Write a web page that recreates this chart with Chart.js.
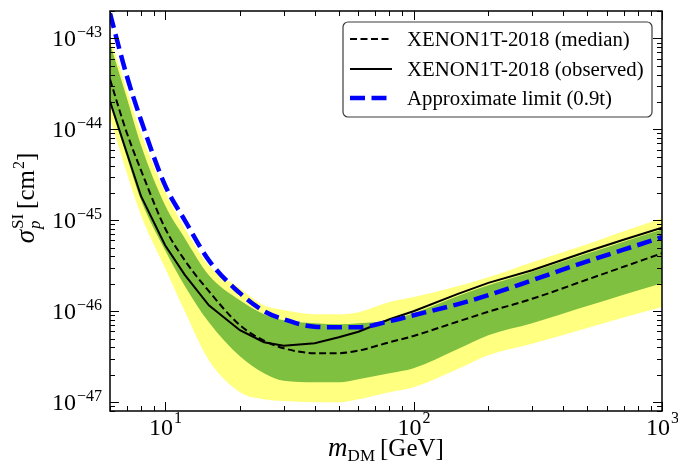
<!DOCTYPE html>
<html>
<head>
<meta charset="utf-8">
<script src="https://cdn.jsdelivr.net/npm/chart.js@4"></script>
<style>
  body { margin: 0; background: #fff; }
  canvas { display: block; }
</style>
</head>
<body>
<canvas id="limitChart" width="678" height="467"></canvas>
<script>
// dark matter mass [GeV]
const masses = [6, 7, 8, 10, 12, 15, 20, 25, 30, 40, 50, 60, 80, 100, 150, 200, 300, 500, 700, 1000];

// sigma_p^SI [cm^2]
const median = [3.54e-44, 9.27e-45, 3.54e-45, 8.17e-46, 3.63e-46, 1.66e-46, 7.02e-47, 4.74e-47, 3.92e-47, 3.46e-47,
  3.46e-47, 3.69e-47, 4.56e-47, 5.35e-47, 7.67e-47, 9.87e-47, 1.37e-46, 2.23e-46, 3.08e-46, 4.34e-46];
const observed = [2.03e-44, 5.59e-45, 1.84e-45, 5.31e-46, 2.51e-46, 1.16e-46, 6.18e-47, 4.56e-47, 4.18e-47, 4.45e-47,
  5.18e-47, 5.95e-47, 8.17e-47, 1.0e-46, 1.54e-46, 2.05e-46, 2.82e-46, 4.53e-46, 6.1e-46, 8.3e-46];
const approx = [1.88e-43, 3.92e-44, 1.26e-44, 2.42e-45, 1.0e-45, 3.63e-46, 1.58e-46, 1.0e-46, 8.17e-47, 6.75e-47,
  6.67e-47, 6.67e-47, 7.77e-47, 9.04e-47, 1.19e-46, 1.50e-46, 2.19e-46, 3.54e-46, 4.75e-46, 6.51e-46];

// 2 sigma (yellow) and 1 sigma (green) bands
const yellowUp = [1.03e-43, 2.75e-44, 9.04e-45, 2.08e-45, 8.17e-46, 3.20e-46, 1.79e-46, 1.16e-46, 1.03e-46, 9.27e-47,
  9.27e-47, 9.75e-47, 1.26e-46, 1.43e-46, 1.88e-46, 2.36e-46, 3.46e-46, 5.45e-46, 7.57e-46, 1.05e-45];
const greenUp = [8.81e-44, 2.25e-44, 6.67e-45, 1.46e-45, 6.34e-46, 2.49e-46, 1.32e-46, 9.27e-47, 7.96e-47, 7.38e-47,
  7.2e-47, 7.38e-47, 7.96e-47, 9.51e-47, 1.46e-46, 1.93e-46, 2.72e-46, 4.3e-46, 5.8e-46, 7.9e-46];
const greenLo = [1.88e-44, 5.05e-45, 1.66e-45, 4.68e-46, 1.90e-46, 7.57e-47, 3.20e-47, 2.08e-47, 1.72e-47, 1.66e-47,
  1.66e-47, 1.79e-47, 2.08e-47, 2.36e-47, 3.82e-47, 5.45e-47, 7.38e-47, 1.14e-46, 1.52e-46, 2.03e-46];
const yellowLo = [1.32e-44, 3.37e-45, 1.13e-45, 2.97e-46, 1.0e-46, 2.89e-47, 1.29e-47, 1.08e-47, 1.03e-47, 1.0e-47,
  1.0e-47, 1.08e-47, 1.29e-47, 1.46e-47, 2.30e-47, 3.28e-47, 4.38e-47, 6.54e-47, 8.51e-47, 1.11e-46];

// axis ticks
const xMajor = [10, 100, 1000];
const xExp = ["1", "2", "3"];
const yMajor = [1e-47, 1e-46, 1e-45, 1e-44, 1e-43];
const yExp = ["\u221247", "\u221246", "\u221245", "\u221244", "\u221243"];

const legendItems = [
  { text: "XENON1T-2018 (median)", color: "#000", width: 2, dash: [7, 3.5] },
  { text: "XENON1T-2018 (observed)", color: "#000", width: 2, dash: [] },
  { text: "Approximate limit (0.9t)", color: "#0000ff", width: 4.5, dash: [15, 6.5] }
];

const SERIF = "'Liberation Serif', 'DejaVu Serif', serif";

function pts(vals) {
  return masses.map((m, i) => ({ x: m, y: vals[i] }));
}

function minorTicks(lo, hi) {
  const out = [];
  for (let e = Math.floor(Math.log10(lo)); e <= Math.ceil(Math.log10(hi)); e++) {
    for (let k = 2; k <= 9; k++) {
      const v = k * Math.pow(10, e);
      if (v >= lo * 0.999 && v <= hi * 1.001) out.push(v);
    }
  }
  return out;
}

const decor = {
  id: "decor",
  afterDraw(chart) {
    const { ctx, chartArea: a, scales } = chart;
    const x = scales.x, y = scales.y;
    ctx.save();

    // inward ticks on all four sides
    ctx.strokeStyle = "#000";
    ctx.lineWidth = 1;
    const xTick = (v, len) => {
      const px = Math.round(x.getPixelForValue(v)) + 0.5;
      ctx.beginPath();
      ctx.moveTo(px, a.bottom); ctx.lineTo(px, a.bottom - len);
      ctx.moveTo(px, a.top); ctx.lineTo(px, a.top + len);
      ctx.stroke();
    };
    const yTick = (v, len) => {
      const py = Math.round(y.getPixelForValue(v)) + 0.5;
      ctx.beginPath();
      ctx.moveTo(a.left, py); ctx.lineTo(a.left + len, py);
      ctx.moveTo(a.right, py); ctx.lineTo(a.right - len, py);
      ctx.stroke();
    };
    minorTicks(x.min, x.max).forEach(v => xTick(v, 5));
    xMajor.forEach(v => xTick(v, 9));
    minorTicks(y.min, y.max).forEach(v => yTick(v, 5));
    yMajor.forEach(v => yTick(v, 9));

    // frame
    ctx.lineWidth = 1.5;
    ctx.strokeRect(a.left, a.top, a.right - a.left, a.bottom - a.top);

    // tick labels
    ctx.fillStyle = "#000";
    ctx.textAlign = "left";
    ctx.textBaseline = "alphabetic";
    xMajor.forEach((v, i) => {
      const px = x.getPixelForValue(v);
      ctx.font = "24px " + SERIF;
      const w1 = ctx.measureText("10").width;
      ctx.font = "16px " + SERIF;
      const w2 = ctx.measureText(xExp[i]).width;
      const left = px - (w1 + w2) / 2;
      ctx.font = "24px " + SERIF;
      ctx.fillText("10", left, a.bottom + 24);
      ctx.font = "16px " + SERIF;
      ctx.fillText(xExp[i], left + w1 + 1, a.bottom + 12);
    });
    yMajor.forEach((v, i) => {
      const py = y.getPixelForValue(v);
      ctx.font = "16px " + SERIF;
      const w2 = ctx.measureText(yExp[i]).width;
      ctx.fillText(yExp[i], 102 - w2, py - 1);
      ctx.font = "24px " + SERIF;
      const w1 = ctx.measureText("10").width;
      ctx.fillText("10", 102 - w2 - w1 - 1, py + 8);
    });

    // x title: m_DM [GeV]
    const xParts = [
      { t: "m", f: "italic 27px " + SERIF, dy: 0 },
      { t: "DM", f: "17px " + SERIF, dy: 5 },
      { t: "\u2009[GeV]", f: "25px " + SERIF, dy: 0 }
    ];
    let tw = 0;
    xParts.forEach(p => { ctx.font = p.f; p.w = ctx.measureText(p.t).width; tw += p.w; });
    let cx = (a.left + a.right) / 2 - tw / 2;
    xParts.forEach(p => { ctx.font = p.f; ctx.fillText(p.t, cx, 456 + p.dy); cx += p.w; });

    // y title: sigma_p^SI [cm^2]
    ctx.save();
    ctx.translate(34, 198);
    ctx.rotate(-Math.PI / 2);
    ctx.font = "italic 27px " + SERIF;
    const wSig = ctx.measureText("\u03c3").width;
    ctx.font = "17px " + SERIF;
    const wSI = ctx.measureText("SI").width;
    ctx.font = "25px " + SERIF;
    const wCm = ctx.measureText("\u2009[cm").width;
    const wBr = ctx.measureText("]").width;
    ctx.font = "16px " + SERIF;
    const w2 = ctx.measureText("2").width;
    const total = wSig + wSI + wCm + w2 + wBr + 2;
    let tx = -total / 2;
    ctx.font = "italic 27px " + SERIF;
    ctx.fillText("\u03c3", tx, 0);
    tx += wSig + 1;
    ctx.font = "italic 17px " + SERIF;
    ctx.fillText("p", tx, 6);
    ctx.font = "17px " + SERIF;
    ctx.fillText("SI", tx, -11);
    tx += wSI;
    ctx.font = "25px " + SERIF;
    ctx.fillText("\u2009[cm", tx, 0);
    tx += wCm;
    ctx.font = "16px " + SERIF;
    ctx.fillText("2", tx + 1, -10);
    tx += w2 + 1;
    ctx.font = "25px " + SERIF;
    ctx.fillText("]", tx, 0);
    ctx.restore();

    // legend box
    const bx = 343, by = 22, bw = 309, bh = 95, r = 5;
    ctx.beginPath();
    ctx.moveTo(bx + r, by);
    ctx.arcTo(bx + bw, by, bx + bw, by + bh, r);
    ctx.arcTo(bx + bw, by + bh, bx, by + bh, r);
    ctx.arcTo(bx, by + bh, bx, by, r);
    ctx.arcTo(bx, by, bx + bw, by, r);
    ctx.closePath();
    ctx.fillStyle = "rgba(255,255,255,0.9)";
    ctx.fill();
    ctx.strokeStyle = "#3c3c3c";
    ctx.lineWidth = 1.2;
    ctx.stroke();

    const rows = [39, 69, 98];
    legendItems.forEach((it, i) => {
      ctx.beginPath();
      ctx.setLineDash(it.dash);
      ctx.strokeStyle = it.color;
      ctx.lineWidth = it.width;
      ctx.moveTo(350, rows[i]);
      ctx.lineTo(392, rows[i]);
      ctx.stroke();
      ctx.setLineDash([]);
      ctx.fillStyle = "#000";
      ctx.font = "20.8px " + SERIF;
      ctx.fillText(it.text, 407, rows[i] + 7);
    });

    ctx.restore();
  }
};

const smooth = { cubicInterpolationMode: "monotone" };

new Chart(document.getElementById("limitChart"), {
  type: "line",
  data: {
    datasets: [
      { data: pts(yellowUp), fill: "+1", backgroundColor: "#ffff80", borderWidth: 0, order: 6, ...smooth },
      { data: pts(yellowLo), fill: false, borderWidth: 0, order: 7, ...smooth },
      { data: pts(greenUp), fill: "+1", backgroundColor: "#80c040", borderWidth: 0, order: 4, ...smooth },
      { data: pts(greenLo), fill: false, borderWidth: 0, order: 5, ...smooth },
      { data: pts(median), borderColor: "#000", borderWidth: 2, borderDash: [7, 3.5], fill: false, order: 3, ...smooth },
      { data: pts(observed), borderColor: "#000", borderWidth: 2, fill: false, order: 2 },
      { data: pts(approx), borderColor: "#0000ff", borderWidth: 4.5, borderDash: [15, 6.5], fill: false, order: 1, ...smooth }
    ]
  },
  options: {
    responsive: false,
    animation: false,
    layout: { padding: { left: 110, right: 16, top: 11, bottom: 56 } },
    elements: { point: { radius: 0 }, line: { tension: 0 } },
    plugins: { legend: { display: false }, tooltip: { enabled: false } },
    scales: {
      x: { type: "logarithmic", min: 6, max: 1000, display: false },
      y: { type: "logarithmic", min: 8e-48, max: 2e-43, display: false }
    }
  },
  plugins: [decor]
});
</script>
</body>
</html>
